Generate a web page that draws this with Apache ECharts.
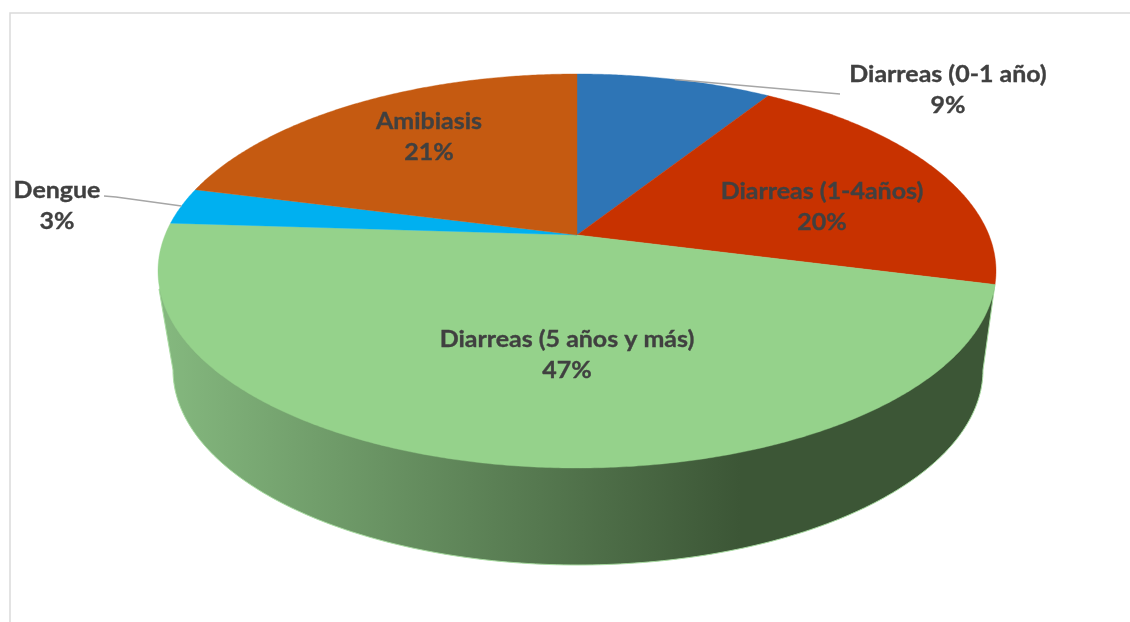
<!DOCTYPE html>
<html>
<head>
<meta charset="utf-8">
<style>html,body{margin:0;padding:0;background:#fff}#chart{width:1130px;height:622px}</style>
<script src="https://cdn.jsdelivr.net/npm/echarts@6/dist/echarts.min.js"></script>
</head>
<body>
<div id="chart"></div>
<script>
// Causes of illness, share of reported cases
const categories = ['Diarreas (0-1 año)', 'Diarreas (1-4años)', 'Diarreas (5 años y más)', 'Dengue', 'Amibiasis'];
const shares = [9, 20, 47, 3, 21];

// Slice fills and label placement (centre of the two-line label, in pixels)
const sliceColors = ['#2E75B6', '#C83200', '#95D28B', '#00B0F0', '#C55A11'];
const labelCentres = [[948, 90], [822, 207], [567, 355], [57, 206], [429, 137]];
// Leader line start next to the label, with an optional elbow
const leaderStarts = [[[840, 94]], null, null, [[104, 196], [116, 197]], null];

// Tilted disc: the outline is an ellipse, the pivot sits above its centre (perspective)
const disc = { cx: 577, cy: 271, rx: 419, ry: 197, tilt: 0.183 };
const base = { cx: 578, cy: 370, rx: 405, ry: 195 };

const total = shares.reduce((a, b) => a + b, 0);

// Projects a point of the disc, given clockwise angle from the top and radius 0..1
function project(angle, r) {
  const x = r * Math.sin(angle), y = r * Math.cos(angle), a = disc.tilt;
  const d = 1 + a * y;
  return [disc.cx + disc.rx * x * Math.sqrt(1 - a * a) / d, disc.cy - disc.ry * (y + a) / d];
}

function sliceAngles(index) {
  const before = shares.slice(0, index).reduce((a, b) => a + b, 0);
  return [before / total * 2 * Math.PI, (before + shares[index]) / total * 2 * Math.PI];
}

function renderSlice(params, api) {
  const i = params.dataIndex;
  const [start, end] = sliceAngles(i);
  const points = [project(0, 0)];
  const steps = Math.max(8, Math.ceil((end - start) / 0.008));
  for (let s = 0; s <= steps; s++) points.push(project(start + (end - start) * s / steps, 1));

  const children = [{
    type: 'polygon', z2: 1,
    shape: { points },
    style: { fill: sliceColors[i], stroke: sliceColors[i], lineWidth: 0.4 }
  }];

  if (leaderStarts[i]) {
    children.push({
      type: 'polyline', z2: 2,
      shape: { points: leaderStarts[i].concat([project((start + end) / 2, 1)]) },
      style: { fill: null, stroke: '#A6A6A6', lineWidth: 1.5 }
    });
  }

  children.push({
    type: 'text', z2: 3,
    x: labelCentres[i][0], y: labelCentres[i][1],
    scaleX: 1.085,
    style: {
      text: categories[i] + '\n' + Math.round(api.value(1) / total * 100) + '%',
      fill: '#404040',
      stroke: '#404040',
      lineWidth: 0.35,
      font: 'bold 23px Lato, sans-serif',
      lineHeight: 31.5,
      align: 'center',
      verticalAlign: 'middle'
    }
  });
  return { type: 'group', children };
}

// Side wall of the disc: follows the front half, closed by the smaller base ellipse
function renderWall() {
  const points = [[disc.cx - disc.rx + 1, disc.cy + 18]];
  for (let t = 0; t <= 180; t++) {
    const q = Math.PI - t * Math.PI / 180;
    points.push([base.cx + base.rx * Math.cos(q), base.cy + base.ry * Math.sin(q)]);
  }
  points.push([disc.cx + disc.rx - 1, disc.cy + 13]);
  return {
    type: 'polygon',
    shape: { points },
    style: {
      stroke: '#A9DCA2', lineWidth: 1,
      fill: new echarts.graphic.LinearGradient(disc.cx - disc.rx, 0, disc.cx + disc.rx, 0, [
        { offset: 0, color: '#85B97F' },
        { offset: 0.695, color: '#3C5636' },
        { offset: 1, color: '#3C5636' }
      ], true)
    }
  };
}

const chart = echarts.init(document.getElementById('chart'), null, { renderer: 'canvas' });
chart.setOption({
  animation: false,
  backgroundColor: '#ffffff',
  graphic: [{
    type: 'polyline',
    silent: true,
    shape: { points: [[10, 622], [10, 13], [1130, 13]] },
    style: { fill: null, stroke: '#DADADA', lineWidth: 1.5 }
  }],
  series: [
    { type: 'custom', coordinateSystem: 'none', z: 1, renderItem: renderWall, data: [[0]], silent: true },
    {
      type: 'custom', coordinateSystem: 'none', z: 2, renderItem: renderSlice, silent: true,
      data: categories.map((name, i) => ({ name, value: [i, shares[i]] }))
    }
  ]
});
</script>
</body>
</html>
